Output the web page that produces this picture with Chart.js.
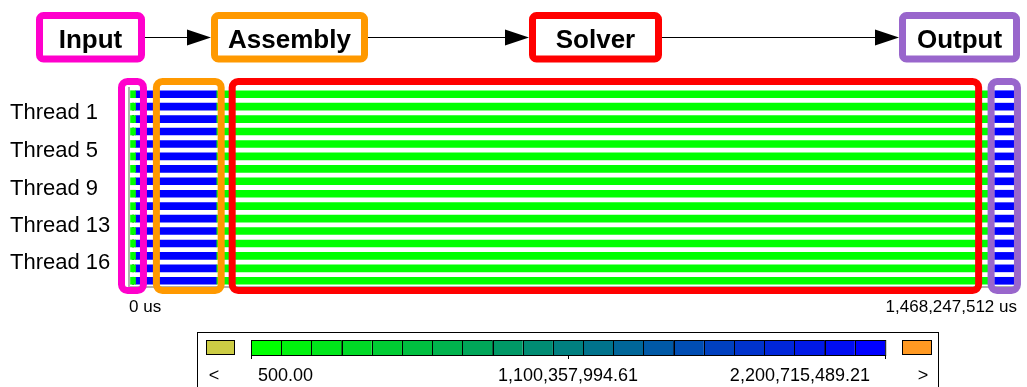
<!DOCTYPE html>
<html>
<head>
<meta charset="utf-8">
<script src="https://cdn.jsdelivr.net/npm/chart.js@4.4.1/dist/chart.umd.min.js"></script>
<style>
  html, body { margin: 0; padding: 0; background: #fff; }
  #wrap { width: 1027px; height: 387px; position: relative; }
</style>
</head>
<body>
<div id="wrap"><canvas id="timeline"></canvas></div>
<script>
// ---------------- Data ----------------
const threadNames = ["Thread 1", "Thread 2", "Thread 3", "Thread 4", "Thread 5", "Thread 6", "Thread 7", "Thread 8",
                     "Thread 9", "Thread 10", "Thread 11", "Thread 12", "Thread 13", "Thread 14", "Thread 15", "Thread 16"];

// per-thread state intervals, in us
const inputStart    = [2.5e6, 2.5e6, 2.5e6, 2.5e6, 2.5e6, 2.5e6, 2.5e6, 2.5e6, 2.5e6, 2.5e6, 2.5e6, 2.5e6, 2.5e6, 2.5e6, 2.5e6, 2.5e6];
const assemblyStart = [10.7e6, 10.7e6, 10.7e6, 10.7e6, 10.7e6, 10.7e6, 10.7e6, 10.7e6, 10.7e6, 10.7e6, 10.7e6, 10.7e6, 10.7e6, 10.7e6, 10.7e6, 10.7e6];
const solverStart   = [144.2e6, 144.2e6, 144.2e6, 144.2e6, 144.2e6, 144.2e6, 144.2e6, 144.2e6, 144.2e6, 144.2e6, 144.2e6, 144.2e6, 144.2e6, 144.2e6, 144.2e6, 144.2e6];
const solverEnd     = [1423.8e6, 1423.8e6, 1423.8e6, 1423.8e6, 1423.8e6, 1423.8e6, 1423.8e6, 1423.8e6, 1423.8e6, 1423.8e6, 1423.8e6, 1423.8e6, 1423.8e6, 1423.8e6, 1423.8e6, 1423.8e6];
const outputStart   = [1431.1e6, 1431.1e6, 1431.1e6, 1431.1e6, 1431.1e6, 1431.1e6, 1431.1e6, 1431.1e6, 1431.1e6, 1431.1e6, 1431.1e6, 1431.1e6, 1431.1e6, 1431.1e6, 1431.1e6, 1431.1e6];
const outputEnd     = [1464.1e6, 1464.1e6, 1464.1e6, 1464.1e6, 1464.1e6, 1464.1e6, 1464.1e6, 1464.1e6, 1464.1e6, 1464.1e6, 1464.1e6, 1464.1e6, 1464.1e6, 1464.1e6, 1464.1e6, 1464.1e6];
// short black event inside the input phase (rows that show it)
const markRows  = [1, 2, 3, 10, 11, 12, 13, 14, 15];
const markStart = 5.8e6;
const markEnd   = 7.9e6;

const timeEnd = 1468247512;
const xTickValues = [0, timeEnd];
const xTickLabels = ["0 us", "1,468,247,512 us"];
const yTickRows   = [2.0, 5.1, 8.1, 11.1, 14.1];
const yTickLabels = ["Thread 1", "Thread 5", "Thread 9", "Thread 13", "Thread 16"];

// phase frames drawn around the timeline (us)
const phaseNames    = ["Input", "Assembly", "Solver", "Output"];
const phaseColors   = ["#ff00cc", "#ff9900", "#ff0000", "#9966cc"];
const phaseBoxStart = [-12.4e6, 45.3e6, 170.6e6, 1425.4e6];
const phaseBoxEnd   = [23.9e6, 152.4e6, 1404.8e6, 1469e6];

// gradient legend
const legendLabels = ["500.00", "1,100,357,994.61", "2,200,715,489.21"];
const legendCells  = 21;

// ---------------- Datasets ----------------
const GREEN = "#00ff00";
const BLUE = "#0000ff";

const rows = (starts, ends) => threadNames.map((_, i) => ({ y: i + 0.5, x: [starts[i], ends[i]] }));

const datasets = [
    { data: rows(inputStart, assemblyStart), backgroundColor: GREEN },
    { data: markRows.map(r => ({ y: r + 0.5, x: [markStart, markEnd] })), backgroundColor: "#000" },
    { data: rows(assemblyStart, solverStart), backgroundColor: BLUE },
    { data: rows(solverStart, solverEnd), backgroundColor: GREEN },
    { data: rows(outputStart, outputEnd), backgroundColor: BLUE }
].map(d => Object.assign(d, { barThickness: 7, grouped: false, borderWidth: 0 }));

// ---------------- Overlay drawing ----------------
const FONT = "'Liberation Sans', Arial, Helvetica, sans-serif";

function frame(ctx, x0, y0, x1, y1, r, color, lw) {
    ctx.save();
    ctx.strokeStyle = color;
    ctx.lineWidth = lw;
    ctx.beginPath();
    ctx.roundRect(x0, y0, x1 - x0, y1 - y0, r);
    ctx.stroke();
    ctx.restore();
}

function arrow(ctx, x0, x1, y) {
    ctx.save();
    ctx.strokeStyle = "#000";
    ctx.fillStyle = "#000";
    ctx.lineWidth = 1;
    ctx.beginPath();
    ctx.moveTo(x0, y);
    ctx.lineTo(x1 - 20, y);
    ctx.stroke();
    ctx.beginPath();
    ctx.moveTo(x1, y);
    ctx.lineTo(x1 - 24, y - 8);
    ctx.lineTo(x1 - 24, y + 8);
    ctx.closePath();
    ctx.fill();
    ctx.restore();
}

const overlay = {
    id: "overlay",
    afterDraw(chart) {
        const ctx = chart.ctx;
        const xs = chart.scales.x;
        const area = chart.chartArea;

        // frames around timeline phases
        phaseNames.forEach((name, i) => {
            const x0 = xs.getPixelForValue(phaseBoxStart[i]);
            const x1 = xs.getPixelForValue(phaseBoxEnd[i]);
            frame(ctx, x0, area.top - 6.5, x1, area.bottom + 3.5, 6, phaseColors[i], 7);
        });

        // pipeline boxes on top
        const pipe = [[36, 145], [211, 368], [529, 662], [899, 1020]];
        ctx.save();
        ctx.font = "bold 26px " + FONT;
        ctx.textAlign = "center";
        ctx.textBaseline = "alphabetic";
        ctx.fillStyle = "#000";
        pipe.forEach(([a, b], i) => {
            frame(ctx, a + 3.5, 15.5, b - 3.5, 59, 4, phaseColors[i], 7);
            ctx.fillText(phaseNames[i], (a + b) / 2, 48);
            if (i < pipe.length - 1) arrow(ctx, b, pipe[i + 1][0], 37.5);
        });
        ctx.restore();

        // colour legend
        ctx.save();
        ctx.strokeStyle = "#000";
        ctx.lineWidth = 1;
        ctx.strokeRect(197.5, 332.5, 741, 80);
        ctx.fillStyle = "#cccc44";
        ctx.fillRect(206, 340, 28, 14);
        ctx.strokeRect(206.5, 340.5, 28, 14);
        ctx.fillStyle = "#ff9922";
        ctx.fillRect(902, 340, 29, 14);
        ctx.strokeRect(902.5, 340.5, 29, 14);
        const gx0 = 251, gx1 = 885, cw = (gx1 - gx0) / legendCells;
        for (let i = 0; i < legendCells; i++) {
            const t = i / (legendCells - 1);
            ctx.fillStyle = `rgb(0, ${Math.round(255 * (1 - t))}, ${Math.round(255 * t)})`;
            ctx.fillRect(gx0 + i * cw, 340, cw, 15);
            ctx.strokeRect(Math.round(gx0 + i * cw) + 0.5, 340.5, cw, 15);
        }
        [gx0, (gx0 + gx1) / 2, gx1].forEach(x => {
            ctx.beginPath();
            ctx.moveTo(Math.round(x) + 0.5, 355);
            ctx.lineTo(Math.round(x) + 0.5, 359);
            ctx.stroke();
        });
        ctx.fillStyle = "#000";
        ctx.font = "18px " + FONT;
        ctx.textBaseline = "alphabetic";
        ctx.textAlign = "center";
        ctx.fillText("<", 214, 381);
        ctx.fillText(">", 923, 381);
        ctx.textAlign = "left";
        ctx.fillText(legendLabels[0], gx0 + 7, 381);
        ctx.textAlign = "center";
        ctx.fillText(legendLabels[1], (gx0 + gx1) / 2, 381);
        ctx.textAlign = "right";
        ctx.fillText(legendLabels[2], gx1 - 15, 381);
        ctx.restore();
    }
};

// ---------------- Chart ----------------
new Chart(document.getElementById("timeline"), {
    type: "bar",
    data: { datasets },
    options: {
        indexAxis: "y",
        responsive: true,
        maintainAspectRatio: false,
        animation: false,
        layout: { padding: { top: 88, left: 10, right: 5, bottom: 0 } },
        plugins: { legend: { display: false }, tooltip: { enabled: false } },
        scales: {
            x: {
                type: "linear",
                min: 0,
                max: timeEnd,
                grid: { display: false, drawTicks: false },
                border: { display: true, color: "#b0b0b0", width: 2 },
                afterBuildTicks: s => { s.ticks = xTickValues.map(v => ({ value: v })); },
                afterFit: s => { s.height = 100; },
                ticks: {
                    autoSkip: false,
                    maxRotation: 0,
                    align: "inner",
                    padding: 10,
                    color: "#000",
                    font: { family: FONT, size: 17 },
                    callback: v => xTickLabels[xTickValues.indexOf(v)]
                }
            },
            y: {
                type: "linear",
                offset: false,
                min: 0,
                max: threadNames.length,
                reverse: true,
                grid: { display: false, drawTicks: false },
                border: { display: true, color: "#b0b0b0", width: 2 },
                afterBuildTicks: s => { s.ticks = yTickRows.map(v => ({ value: v })); },
                afterFit: s => { s.width = 119; },
                ticks: {
                    autoSkip: false,
                    crossAlign: "far",
                    color: "#000",
                    font: { family: FONT, size: 22 },
                    callback: v => yTickLabels[yTickRows.indexOf(v)]
                }
            }
        }
    },
    plugins: [overlay]
});
</script>
</body>
</html>
